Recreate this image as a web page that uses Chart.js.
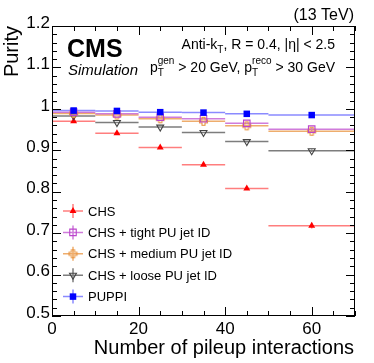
<!DOCTYPE html>
<html>
<head>
<meta charset="utf-8">
<script src="https://cdn.jsdelivr.net/npm/chart.js@4"></script>
<style>
html, body { margin: 0; padding: 0; background: #fff; }
#wrap { width: 374px; height: 363px; position: relative; }
</style>
</head>
<body>
<div id="wrap"><canvas id="c"></canvas></div>
<script>
// pileup bins
var binLo = [0, 10, 20, 30, 40, 50];
var binHi = [10, 20, 30, 40, 50, 70];
var binMid = [5, 15, 25, 35, 45, 60];

// purity per bin
var chs = [0.970, 0.941, 0.907, 0.865, 0.808, 0.718];
var chsTight = [0.992, 0.988, 0.980, 0.976, 0.965, 0.951];
var chsMedium = [0.989, 0.985, 0.976, 0.970, 0.959, 0.946];
var chsLoose = [0.983, 0.967, 0.956, 0.943, 0.921, 0.899];
var puppi = [0.996, 0.995, 0.992, 0.991, 0.988, 0.985];
// stat errors
var chsErr = [0.002, 0.002, 0.003, 0.003, 0.004, 0.007];
var smallErr = [0.001, 0.001, 0.001, 0.002, 0.002, 0.003];

var yTicks = [0.5, 0.6, 0.7, 0.8, 0.9, 1.0, 1.1, 1.2];
var xTicks = [0, 20, 40, 60];

var FONT = "'Liberation Sans', Arial, Helvetica, sans-serif";
Chart.defaults.font.family = FONT;

// open cross marker (ROOT style 28-ish)
function openCross(color) {
  var c = document.createElement('canvas');
  c.width = 11; c.height = 11;
  var g = c.getContext('2d');
  var cx = 5.5, cy = 5.5, a = 1.5, b = 4;
  g.strokeStyle = color;
  g.lineWidth = 1.1;
  g.beginPath();
  g.moveTo(cx - a, cy - b); g.lineTo(cx + a, cy - b); g.lineTo(cx + a, cy - a);
  g.lineTo(cx + b, cy - a); g.lineTo(cx + b, cy + a); g.lineTo(cx + a, cy + a);
  g.lineTo(cx + a, cy + b); g.lineTo(cx - a, cy + b); g.lineTo(cx - a, cy + a);
  g.lineTo(cx - b, cy + a); g.lineTo(cx - b, cy - a); g.lineTo(cx - a, cy - a);
  g.closePath();
  g.stroke();
  return c;
}

function pts(vals) {
  return vals.map(function (v, i) { return { x: binMid[i], y: v }; });
}

var crossImg = openCross('#e8923c');

// first dataset is drawn on top
var series = [
  { label: 'PUPPI', vals: puppi, err: smallErr, color: '#0000ff', line: 'rgba(60,60,255,0.6)',
    style: 'rect', radius: 4.6, rot: 0, fill: '#0000ff', bw: 0 },
  { label: 'CHS + tight PU jet ID', vals: chsTight, err: smallErr, color: '#bb44cc', line: 'rgba(187,68,204,0.7)',
    style: 'rect', radius: 4.6, rot: 0, fill: 'rgba(0,0,0,0)', bw: 1.1 },
  { label: 'CHS + medium PU jet ID', vals: chsMedium, err: smallErr, color: '#e8923c', line: 'rgba(232,146,60,0.75)',
    style: crossImg, radius: 5, rot: 0, fill: 'rgba(0,0,0,0)', bw: 1 },
  { label: 'CHS + loose PU jet ID', vals: chsLoose, err: smallErr, color: '#444444', line: 'rgba(70,70,70,0.7)',
    style: 'triangle', radius: 4, rot: 180, fill: 'rgba(0,0,0,0)', bw: 1.1 },
  { label: 'CHS', vals: chs, err: chsErr, color: '#ff0000', line: 'rgba(255,40,40,0.6)',
    style: 'triangle', radius: 4, rot: 0, fill: '#ff0000', bw: 0 }
];

var datasets = series.map(function (s) {
  return {
    label: s.label,
    data: pts(s.vals),
    pointStyle: s.style,
    pointRadius: s.radius,
    pointRotation: s.rot,
    pointBackgroundColor: s.fill,
    pointBorderColor: s.color,
    pointBorderWidth: s.bw,
    showLine: false
  };
});

// horizontal bin-width bars and vertical error bars
var errorBars = {
  id: 'errorBars',
  beforeDatasetsDraw: function (chart) {
    var ctx = chart.ctx, xs = chart.scales.x, ys = chart.scales.y;
    ctx.save();
    for (var k = series.length - 1; k >= 0; k--) {
      var s = series[k];
      ctx.strokeStyle = s.line;
      ctx.lineWidth = 1.5;
      for (var i = 0; i < s.vals.length; i++) {
        var y = ys.getPixelForValue(s.vals[i]);
        var x0 = xs.getPixelForValue(binLo[i]), x1 = xs.getPixelForValue(binHi[i]);
        var xm = xs.getPixelForValue(binMid[i]);
        ctx.beginPath();
        ctx.moveTo(x0, y); ctx.lineTo(x1, y);
        ctx.moveTo(xm, ys.getPixelForValue(s.vals[i] - s.err[i]));
        ctx.lineTo(xm, ys.getPixelForValue(s.vals[i] + s.err[i]));
        ctx.stroke();
      }
    }
    ctx.restore();
  }
};

function drawMarker(ctx, s, x, y) {
  if (typeof s.style !== 'string') {
    ctx.drawImage(s.style, x - s.style.width / 2, y - s.style.height / 2);
    return;
  }
  ctx.save();
  ctx.fillStyle = s.fill;
  ctx.strokeStyle = s.color;
  ctx.lineWidth = s.bw || 1;
  Chart.helpers.drawPoint(ctx, { pointStyle: s.style, radius: s.radius, rotation: s.rot, borderWidth: s.bw }, x, y);
  ctx.restore();
}

// frame, inward ticks, texts and legend
var decor = {
  id: 'decor',
  afterDraw: function (chart) {
    var ctx = chart.ctx, a = chart.chartArea, xs = chart.scales.x, ys = chart.scales.y;
    ctx.save();
    ctx.strokeStyle = '#000';
    ctx.lineWidth = 1;
    ctx.strokeRect(a.left + 0.5, a.top + 0.5, a.right - a.left - 1, a.bottom - a.top - 1);
    ctx.beginPath();
    var v, p, len;
    for (v = 0; v <= 70; v += 5) {
      p = Math.round(xs.getPixelForValue(v)) + 0.5;
      len = (v % 20 === 0) ? 9 : 5;
      ctx.moveTo(p, a.bottom); ctx.lineTo(p, a.bottom - len);
      ctx.moveTo(p, a.top); ctx.lineTo(p, a.top + len);
    }
    for (var j = 0; j <= 35; j++) {
      v = 0.5 + j * 0.02;
      p = Math.round(ys.getPixelForValue(v)) + 0.5;
      len = (j % 5 === 0) ? 9 : 5;
      ctx.moveTo(a.left, p); ctx.lineTo(a.left + len, p);
      ctx.moveTo(a.right, p); ctx.lineTo(a.right - len, p);
    }
    ctx.stroke();

    ctx.fillStyle = '#000';
    // axis titles
    ctx.font = '20px ' + FONT;
    ctx.textAlign = 'right';
    ctx.textBaseline = 'alphabetic';
    ctx.fillText('Number of pileup interactions', a.right - 1, 354);
    ctx.save();
    ctx.translate(18, a.top);
    ctx.rotate(-Math.PI / 2);
    ctx.fillText('Purity', 0, 0);
    ctx.restore();

    ctx.font = '16px ' + FONT;
    ctx.fillText('(13 TeV)', a.right - 1, 20);

    ctx.textAlign = 'left';
    ctx.font = 'bold 25px ' + FONT;
    ctx.fillText('CMS', 67, 57);
    ctx.font = 'italic 15px ' + FONT;
    ctx.fillText('Simulation', 68, 75);

    // cut labels, built as runs with sub/superscripts
    function runs(parts, xRight, base) {
      var w = 0, i, r;
      for (i = 0; i < parts.length; i++) {
        r = parts[i];
        if (r.sub !== undefined || r.sup !== undefined) {
          ctx.font = '10px ' + FONT;
          r.w = Math.max(r.sub ? ctx.measureText(r.sub).width : 0, r.sup ? ctx.measureText(r.sup).width : 0);
        } else {
          ctx.font = '14px ' + FONT;
          r.w = ctx.measureText(r.t).width;
        }
        w += r.w;
      }
      var x = xRight - w;
      for (i = 0; i < parts.length; i++) {
        r = parts[i];
        if (r.sub !== undefined || r.sup !== undefined) {
          ctx.font = '10px ' + FONT;
          if (r.sub) ctx.fillText(r.sub, x, base + 4);
          if (r.sup) ctx.fillText(r.sup, x, base - 8);
        } else {
          ctx.font = '14px ' + FONT;
          ctx.fillText(r.t, x, base);
        }
        x += r.w;
      }
    }
    runs([{ t: 'Anti-k' }, { sub: 'T' }, { t: ', R = 0.4, |\u03B7| < 2.5' }], 335, 49);
    runs([{ t: 'p' }, { sub: 'T', sup: 'gen' }, { t: ' > 20 GeV, p' }, { sub: 'T', sup: 'reco' }, { t: ' > 30 GeV' }], 335, 72);

    // legend
    var legOrder = [4, 1, 2, 3, 0];
    ctx.font = '13px ' + FONT;
    ctx.textBaseline = 'middle';
    for (var n = 0; n < legOrder.length; n++) {
      var s = series[legOrder[n]];
      var ly = 211 + n * 21.4, lx = 73;
      ctx.strokeStyle = s.line;
      ctx.lineWidth = 1.5;
      ctx.beginPath();
      ctx.moveTo(lx - 10, ly); ctx.lineTo(lx + 10, ly);
      ctx.moveTo(lx, ly - 7); ctx.lineTo(lx, ly + 7);
      ctx.stroke();
      drawMarker(ctx, s, lx, ly);
      ctx.fillStyle = '#000';
      ctx.fillText(s.label, 88, ly + 1);
    }
    ctx.restore();
  }
};

new Chart(document.getElementById('c'), {
  type: 'scatter',
  data: { datasets: datasets },
  options: {
    animation: false,
    responsive: true,
    maintainAspectRatio: false,
    layout: { padding: { left: 0, top: 26, right: 19, bottom: 0 } },
    plugins: { legend: { display: false }, tooltip: { enabled: false } },
    scales: {
      x: {
        type: 'linear', min: 0, max: 70,
        grid: { display: false, drawTicks: false },
        border: { display: false },
        afterBuildTicks: function (s) { s.ticks = xTicks.map(function (v) { return { value: v }; }); },
        ticks: { color: '#000', font: { size: 17 }, padding: 3, maxRotation: 0, autoSkip: false },
        afterFit: function (s) { s.height = 47; }
      },
      y: {
        type: 'linear', min: 0.5, max: 1.2,
        grid: { display: false, drawTicks: false },
        border: { display: false },
        afterBuildTicks: function (s) { s.ticks = yTicks.map(function (v) { return { value: v }; }); },
        ticks: {
          color: '#000', font: { size: 17 }, padding: 2, labelOffset: -3,
          callback: function (v) { return String(Math.round(v * 10) / 10); }
        },
        afterFit: function (s) { s.width = 52; }
      }
    }
  },
  plugins: [errorBars, decor]
});
</script>
</body>
</html>
